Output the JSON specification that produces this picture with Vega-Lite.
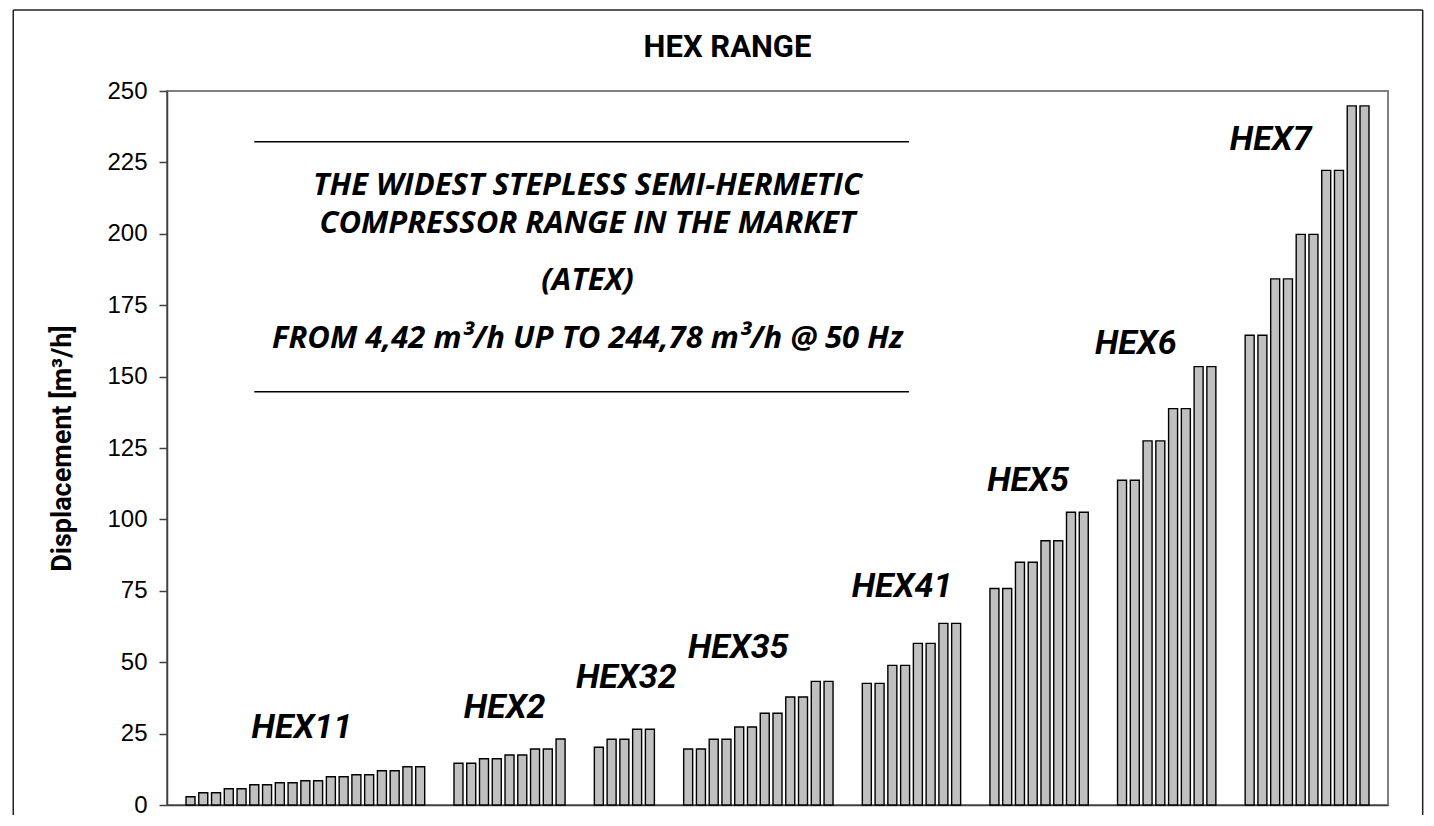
{
  "$schema": "https://vega.github.io/schema/vega-lite/v6.json",
  "width": 1221,
  "height": 714,
  "autosize": {"type": "none"},
  "padding": {"left": 167, "top": 91, "right": 46, "bottom": 21},
  "background": "white",
  "config": {"view": {"stroke": "#808080", "strokeWidth": 2}},
  "title": {
    "text": "HEX RANGE",
    "font": "Liberation Sans Narrow, Roboto, sans-serif",
    "fontSize": 31,
    "fontWeight": "bold",
    "color": "#000000",
    "anchor": "middle",
    "dx": -50,
    "offset": -55
  },
  "datasets": {
    "bars": [
      {"model": "HEX11", "slot": 1, "disp": 2.9},
      {"model": "HEX11", "slot": 2, "disp": 4.3},
      {"model": "HEX11", "slot": 3, "disp": 4.3},
      {"model": "HEX11", "slot": 4, "disp": 5.7},
      {"model": "HEX11", "slot": 5, "disp": 5.7},
      {"model": "HEX11", "slot": 6, "disp": 7.1},
      {"model": "HEX11", "slot": 7, "disp": 7.1},
      {"model": "HEX11", "slot": 8, "disp": 7.8},
      {"model": "HEX11", "slot": 9, "disp": 7.8},
      {"model": "HEX11", "slot": 10, "disp": 8.5},
      {"model": "HEX11", "slot": 11, "disp": 8.5},
      {"model": "HEX11", "slot": 12, "disp": 9.9},
      {"model": "HEX11", "slot": 13, "disp": 9.9},
      {"model": "HEX11", "slot": 14, "disp": 10.6},
      {"model": "HEX11", "slot": 15, "disp": 10.6},
      {"model": "HEX11", "slot": 16, "disp": 12.0},
      {"model": "HEX11", "slot": 17, "disp": 12.0},
      {"model": "HEX11", "slot": 18, "disp": 13.4},
      {"model": "HEX11", "slot": 19, "disp": 13.4},
      {"model": "HEX2", "slot": 22, "disp": 14.6},
      {"model": "HEX2", "slot": 23, "disp": 14.6},
      {"model": "HEX2", "slot": 24, "disp": 16.2},
      {"model": "HEX2", "slot": 25, "disp": 16.2},
      {"model": "HEX2", "slot": 26, "disp": 17.5},
      {"model": "HEX2", "slot": 27, "disp": 17.5},
      {"model": "HEX2", "slot": 28, "disp": 19.6},
      {"model": "HEX2", "slot": 29, "disp": 19.6},
      {"model": "HEX2", "slot": 30, "disp": 23.1},
      {"model": "HEX32", "slot": 33, "disp": 20.2},
      {"model": "HEX32", "slot": 34, "disp": 23.0},
      {"model": "HEX32", "slot": 35, "disp": 23.0},
      {"model": "HEX32", "slot": 36, "disp": 26.5},
      {"model": "HEX32", "slot": 37, "disp": 26.5},
      {"model": "HEX35", "slot": 40, "disp": 19.6},
      {"model": "HEX35", "slot": 41, "disp": 19.6},
      {"model": "HEX35", "slot": 42, "disp": 23.0},
      {"model": "HEX35", "slot": 43, "disp": 23.0},
      {"model": "HEX35", "slot": 44, "disp": 27.3},
      {"model": "HEX35", "slot": 45, "disp": 27.3},
      {"model": "HEX35", "slot": 46, "disp": 32.1},
      {"model": "HEX35", "slot": 47, "disp": 32.1},
      {"model": "HEX35", "slot": 48, "disp": 37.8},
      {"model": "HEX35", "slot": 49, "disp": 37.8},
      {"model": "HEX35", "slot": 50, "disp": 43.3},
      {"model": "HEX35", "slot": 51, "disp": 43.3},
      {"model": "HEX41", "slot": 54, "disp": 42.6},
      {"model": "HEX41", "slot": 55, "disp": 42.6},
      {"model": "HEX41", "slot": 56, "disp": 48.9},
      {"model": "HEX41", "slot": 57, "disp": 48.9},
      {"model": "HEX41", "slot": 58, "disp": 56.6},
      {"model": "HEX41", "slot": 59, "disp": 56.6},
      {"model": "HEX41", "slot": 60, "disp": 63.6},
      {"model": "HEX41", "slot": 61, "disp": 63.6},
      {"model": "HEX5", "slot": 64, "disp": 75.8},
      {"model": "HEX5", "slot": 65, "disp": 75.8},
      {"model": "HEX5", "slot": 66, "disp": 85.0},
      {"model": "HEX5", "slot": 67, "disp": 85.0},
      {"model": "HEX5", "slot": 68, "disp": 92.5},
      {"model": "HEX5", "slot": 69, "disp": 92.5},
      {"model": "HEX5", "slot": 70, "disp": 102.5},
      {"model": "HEX5", "slot": 71, "disp": 102.5},
      {"model": "HEX6", "slot": 74, "disp": 113.7},
      {"model": "HEX6", "slot": 75, "disp": 113.7},
      {"model": "HEX6", "slot": 76, "disp": 127.5},
      {"model": "HEX6", "slot": 77, "disp": 127.5},
      {"model": "HEX6", "slot": 78, "disp": 138.8},
      {"model": "HEX6", "slot": 79, "disp": 138.8},
      {"model": "HEX6", "slot": 80, "disp": 153.5},
      {"model": "HEX6", "slot": 81, "disp": 153.5},
      {"model": "HEX7", "slot": 84, "disp": 164.5},
      {"model": "HEX7", "slot": 85, "disp": 164.5},
      {"model": "HEX7", "slot": 86, "disp": 184.2},
      {"model": "HEX7", "slot": 87, "disp": 184.2},
      {"model": "HEX7", "slot": 88, "disp": 199.8},
      {"model": "HEX7", "slot": 89, "disp": 199.8},
      {"model": "HEX7", "slot": 90, "disp": 222.2},
      {"model": "HEX7", "slot": 91, "disp": 222.2},
      {"model": "HEX7", "slot": 92, "disp": 244.78},
      {"model": "HEX7", "slot": 93, "disp": 244.78}
    ],
    "labels": [
      {"text": "HEX11", "slot": 9.73, "disp": 23.5},
      {"text": "HEX2", "slot": 25.62, "disp": 30.4},
      {"text": "HEX32", "slot": 35.15, "disp": 40.9},
      {"text": "HEX35", "slot": 43.92, "disp": 51.4},
      {"text": "HEX41", "slot": 56.76, "disp": 72.7},
      {"text": "HEX5", "slot": 66.63, "disp": 109.9},
      {"text": "HEX6", "slot": 75.08, "disp": 157.9},
      {"text": "HEX7", "slot": 85.65, "disp": 229.5}
    ],
    "notes": [
      {"text": "THE WIDEST STEPLESS SEMI-HERMETIC", "slot": 32.11, "disp": 213.6},
      {"text": "COMPRESSOR RANGE IN THE MARKET", "slot": 32.11, "disp": 200.3},
      {"text": "(ATEX)", "slot": 32.11, "disp": 180.3},
      {"text": "FROM 4,42 m³/h UP TO 244,78 m³/h @ 50 Hz", "slot": 32.11, "disp": 160.0}
    ],
    "underlines": [
      {"slot": 6.0, "slot2": 57.3, "disp": 232.2},
      {"slot": 6.0, "slot2": 57.3, "disp": 144.7}
    ],
    "frame": [
      {"slot": -12.89, "slot2": -12.89, "disp": -3.5, "disp2": 278.4},
      {"slot": -12.89, "slot2": 97.56, "disp": 278.4, "disp2": 278.4},
      {"slot": 97.56, "slot2": 97.56, "disp": 278.4, "disp2": -3.5}
    ]
  },
  "layer": [
    {
      "data": {"name": "bars"},
      "mark": {"type": "bar", "size": 9, "fill": "#c0c0c0", "stroke": "#000000", "strokeWidth": 1.4},
      "encoding": {
        "x": {
          "field": "slot",
          "type": "quantitative",
          "scale": {"domain": [-0.45, 94.45], "nice": false, "zero": false},
          "axis": {"labels": false, "ticks": false, "grid": false, "title": null, "domainColor": "#404040", "domainWidth": 1.5}
        },
        "y": {
          "field": "disp",
          "type": "quantitative",
          "scale": {"domain": [0, 250], "nice": false},
          "axis": {
            "values": [0, 25, 50, 75, 100, 125, 150, 175, 200, 225, 250],
            "grid": false,
            "labelFont": "Liberation Sans, Arial, sans-serif",
            "labelFontSize": 24,
            "labelColor": "#000000",
            "tickSize": 8,
            "tickColor": "#404040",
            "tickWidth": 1.5,
            "labelPadding": 12,
            "domainColor": "#404040",
            "domainWidth": 1.5,
            "title": "Displacement [m³/h]",
            "titleFont": "Liberation Sans Narrow, Roboto, sans-serif",
            "titleFontSize": 27,
            "titleFontWeight": "bold",
            "titleColor": "#000000",
            "titlePadding": 30
          }
        }
      }
    },
    {
      "data": {"name": "labels"},
      "mark": {"type": "text", "font": "Liberation Sans Narrow, Roboto, sans-serif", "fontSize": 34, "fontWeight": "bold", "fontStyle": "italic", "align": "center", "baseline": "alphabetic", "color": "#000000"},
      "encoding": {
        "x": {"field": "slot", "type": "quantitative"},
        "y": {"field": "disp", "type": "quantitative"},
        "text": {"field": "text"}
      }
    },
    {
      "data": {"name": "notes"},
      "mark": {"type": "text", "font": "Open Sans", "fontSize": 31, "fontWeight": "bold", "fontStyle": "italic", "align": "center", "baseline": "alphabetic", "color": "#000000"},
      "encoding": {
        "x": {"field": "slot", "type": "quantitative"},
        "y": {"field": "disp", "type": "quantitative"},
        "text": {"field": "text"}
      }
    },
    {
      "data": {"name": "underlines"},
      "mark": {"type": "rule", "color": "#000000", "strokeWidth": 1.5},
      "encoding": {
        "x": {"field": "slot", "type": "quantitative"},
        "x2": {"field": "slot2"},
        "y": {"field": "disp", "type": "quantitative"}
      }
    },
    {
      "data": {"name": "frame"},
      "mark": {"type": "rule", "color": "#222222", "strokeWidth": 1.5},
      "encoding": {
        "x": {"field": "slot", "type": "quantitative"},
        "x2": {"field": "slot2"},
        "y": {"field": "disp", "type": "quantitative"},
        "y2": {"field": "disp2"}
      }
    }
  ]
}
